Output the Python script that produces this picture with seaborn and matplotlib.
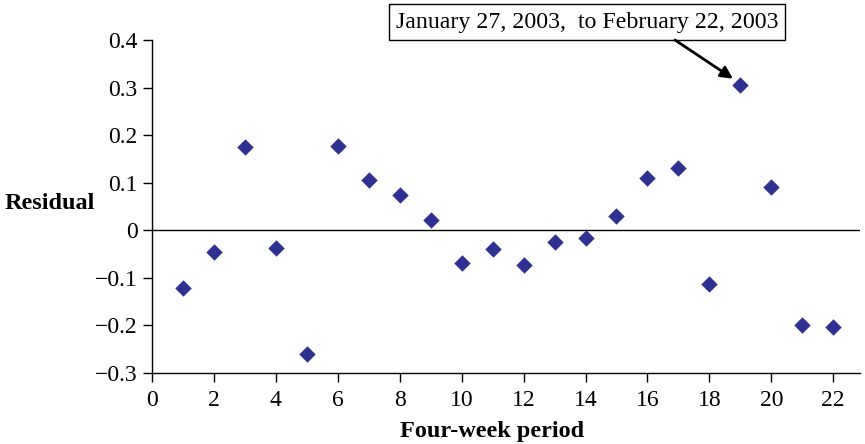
import numpy as np
import pandas as pd
import matplotlib
matplotlib.use('Agg')
import matplotlib.pyplot as plt
import seaborn as sns

# данные
period = list(range(1, 23))
residual = [-0.122, -0.046, 0.175, -0.038, -0.261, 0.177, 0.105, 0.074, 0.021, -0.069, -0.040,
            -0.074, -0.025, -0.017, 0.029, 0.109, 0.131, -0.114, 0.305, 0.091, -0.200, -0.204]
x_ticks = list(range(0, 23, 2))
y_ticks = [-0.3, -0.2, -0.1, 0, 0.1, 0.2, 0.3, 0.4]
y_labels = ['\u22120.3', '\u22120.2', '\u22120.1', '0', '0.1', '0.2', '0.3', '0.4']
note = 'January 27, 2003,  to February 22, 2003'

df = pd.DataFrame({'period': period, 'residual': residual})

sns.set_style('white')
plt.rcParams['font.family'] = ['Liberation Serif', 'DejaVu Serif']
plt.rcParams['text.color'] = 'black'
plt.rcParams['axes.labelcolor'] = 'black'

fig = plt.figure(figsize=(8.65, 4.44), dpi=100)
ax = fig.add_axes([0.1757, 0.16, 0.818, 0.75])

sns.scatterplot(data=df, x='period', y='residual', marker='D', s=70,
                color='#2e3192', edgecolor='#2e3192', linewidth=0, ax=ax, zorder=3)

ax.axhline(0, color='black', linewidth=1.0, zorder=1)
ax.set_xlim(0, 22.85)
ax.set_ylim(-0.3, 0.4)
ax.set_xticks(x_ticks)
ax.set_yticks(y_ticks)
ax.set_yticklabels(y_labels)
ax.tick_params(axis='both', direction='out', length=6.5, width=1, colors='black',
               labelsize=17, bottom=True, left=True)
ax.tick_params(axis='x', pad=6)
ax.tick_params(axis='y', pad=4)
for side in ['top', 'right']:
    ax.spines[side].set_visible(False)
for side in ['left', 'bottom']:
    ax.spines[side].set_color('black')
    ax.spines[side].set_linewidth(1)

ax.set_xlabel('Four-week period', fontsize=17.5, fontweight='bold', color='black')
ax.xaxis.set_label_coords(0.48, -0.145)
ax.set_ylabel('Residual', fontsize=17.5, fontweight='bold', color='black',
              rotation=0, ha='center', va='center')
ax.yaxis.set_label_coords(-0.144, 0.51)

# подпись в рамке и отдельная стрелка к точке 19
ax.text(587, 444 - 22, note, transform=None, ha='center', va='center', fontsize=17.2,
        color='black', bbox=dict(boxstyle='square,pad=0.3', fc='white', ec='black', lw=1))
i = period.index(19)
ax.annotate('', xy=(period[i] - 0.2, residual[i] + 0.012), xycoords='data',
            xytext=(675, 444 - 40), textcoords='figure pixels',
            arrowprops=dict(arrowstyle='-|>', color='black', lw=2, mutation_scale=18,
                            shrinkA=0, shrinkB=1),
            annotation_clip=False)

fig.savefig('out.png', dpi=100)
